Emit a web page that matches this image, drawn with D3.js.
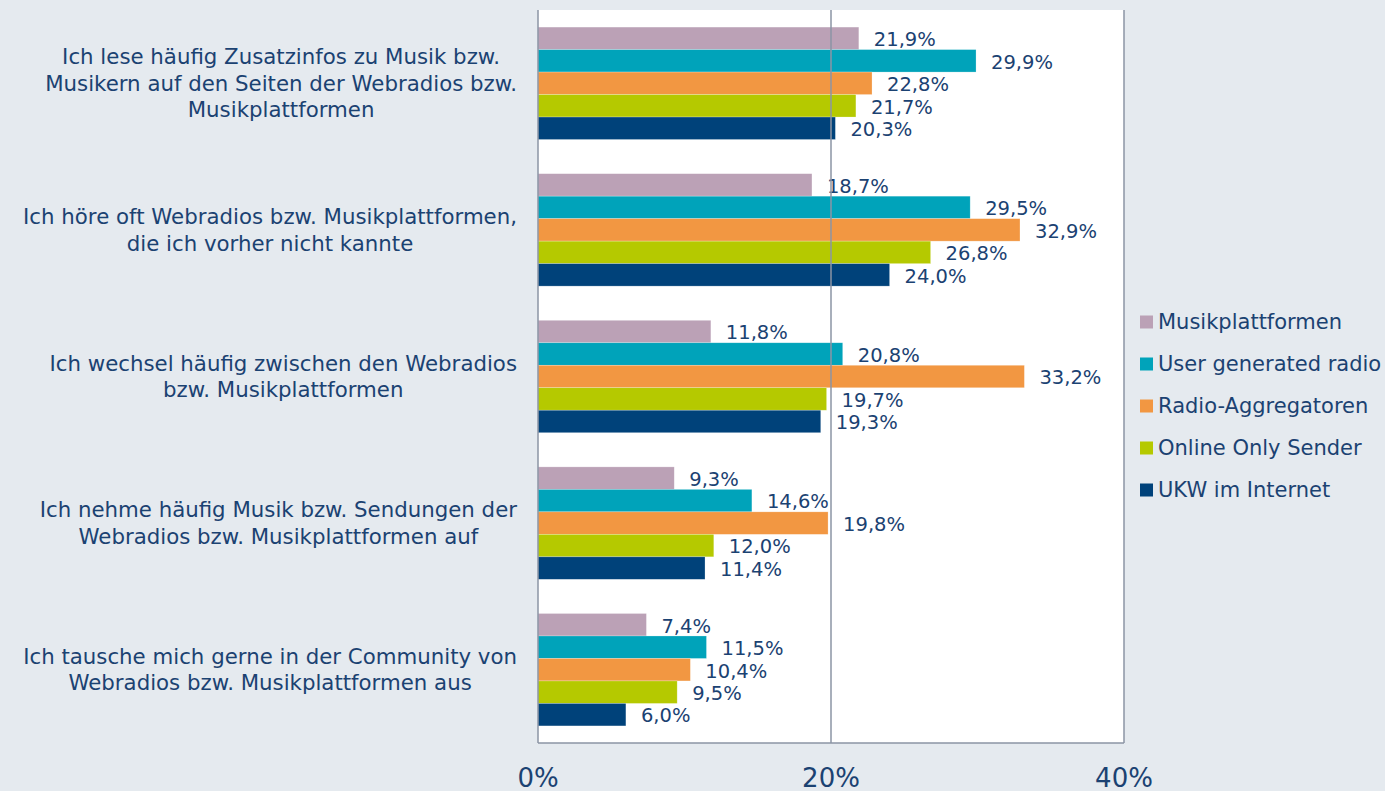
<!DOCTYPE html>
<html>

<head>
    <meta charset="utf-8">
    <style>
        body {
            margin: 0;
            background-color: #e5eaef;
        }

        svg {
            display: block;
            font-family: 'DejaVu Sans', Verdana, sans-serif;
        }
    </style>
</head>

<body>
    <svg width="1385" height="791"></svg>

    <script src="https://d3js.org/d3.v7.min.js"></script>

    <script>
        // categories (line breaks as in the original)
        let categories = [
            ["Ich lese häufig Zusatzinfos zu Musik bzw.", "Musikern auf den Seiten der Webradios bzw.", "Musikplattformen"],
            ["Ich höre oft Webradios bzw. Musikplattformen,", "die ich vorher nicht kannte"],
            ["Ich wechsel häufig zwischen den Webradios", "bzw. Musikplattformen"],
            ["Ich nehme häufig Musik bzw. Sendungen der", "Webradios bzw. Musikplattformen auf"],
            ["Ich tausche mich gerne in der Community von", "Webradios bzw. Musikplattformen aus"]
        ];

        let series = ["Musikplattformen", "User generated radio", "Radio-Aggregatoren", "Online Only Sender", "UKW im Internet"];

        // one array per series, in category order
        let musikplattformen = [21.9, 18.7, 11.8, 9.3, 7.4];
        let userGenerated = [29.9, 29.5, 20.8, 14.6, 11.5];
        let aggregatoren = [22.8, 32.9, 33.2, 19.8, 10.4];
        let onlineOnly = [21.7, 26.8, 19.7, 12.0, 9.5];
        let ukw = [20.3, 24.0, 19.3, 11.4, 6.0];

        let ticks = [0, 20, 40];

        let colors = ["#bba1b6", "#00a3ba", "#f29742", "#b5c900", "#00427a"];
        let textColor = "#1b4272";

        let values = [musikplattformen, userGenerated, aggregatoren, onlineOnly, ukw];

        let svg = d3.select("svg");

        let plotLeft = 538, plotRight = 1124, plotTop = 10, plotBottom = 743;

        let x = d3.scaleLinear()
            .domain([0, 40])
            .range([plotLeft, plotRight]);

        let y = d3.scaleBand()
            .domain(d3.range(categories.length))
            .range([plotTop, plotBottom]);

        let y1 = d3.scaleBand()
            .domain(series)
            .range([0, y.bandwidth()])
            .paddingOuter(0.76);

        let color = d3.scaleOrdinal()
            .domain(series)
            .range(colors);

        let fmt = v => d3.format(".1f")(v).replace(".", ",") + "%";

        // plot area
        svg.append("rect")
            .attr("x", plotLeft)
            .attr("y", plotTop)
            .attr("width", plotRight - plotLeft)
            .attr("height", plotBottom - plotTop)
            .style("fill", "white");

        // bars
        let rows = [];
        categories.forEach((c, i) => {
            series.forEach((s, j) => {
                rows.push({ cat: i, series: s, value: values[j][i] });
            });
        });

        svg.selectAll(".bar")
            .data(rows)
            .join("rect")
            .attr("class", "bar")
            .attr("x", x(0))
            .attr("y", d => y(d.cat) + y1(d.series))
            .attr("width", d => x(d.value) - x(0))
            .attr("height", y1.bandwidth())
            .style("fill", d => color(d.series))
            .style("stroke", "#ffffff")
            .style("stroke-opacity", 0.4)
            .style("stroke-width", 0.6);

        // value labels
        svg.selectAll(".val")
            .data(rows)
            .join("text")
            .attr("class", "val")
            .attr("x", d => x(d.value) + 15)
            .attr("y", d => y(d.cat) + y1(d.series) + y1.bandwidth() / 2 + 1)
            .attr("dy", "0.35em")
            .style("font-size", "19.5px")
            .style("fill", textColor)
            .text(d => fmt(d.value));

        // gridlines / frame
        svg.selectAll(".grid")
            .data(ticks)
            .join("line")
            .attr("class", "grid")
            .attr("x1", d => x(d))
            .attr("x2", d => x(d))
            .attr("y1", plotTop)
            .attr("y2", plotBottom)
            .style("stroke", "#8b94a4")
            .style("stroke-width", 1.5);

        svg.append("line")
            .attr("x1", plotLeft)
            .attr("x2", plotRight)
            .attr("y1", plotBottom)
            .attr("y2", plotBottom)
            .style("stroke", "#8b94a4")
            .style("stroke-width", 1.5);

        // tick labels (the original is cut by the bottom edge too)
        svg.selectAll(".tick-label")
            .data(ticks)
            .join("text")
            .attr("class", "tick-label")
            .attr("x", d => x(d))
            .attr("y", 787)
            .attr("text-anchor", "middle")
            .style("font-size", "26px")
            .style("fill", textColor)
            .text(d => d + "%");

        // category labels: lines centred on each other, block right edge next to the axis
        let lineH = 26.5;
        let labelRight = 517;
        let catLabels = svg.selectAll(".cat")
            .data(categories)
            .join("text")
            .attr("class", "cat")
            .attr("text-anchor", "middle")
            .style("font-size", "21.3px")
            .style("fill", textColor);

        catLabels.each(function (lines, i) {
            let cy = y(i) + y.bandwidth() / 2;
            let start = cy - (lines.length - 1) * lineH / 2;
            let tspans = d3.select(this).selectAll("tspan")
                .data(lines)
                .join("tspan")
                .attr("y", (d, k) => start + k * lineH)
                .attr("dy", "0.35em")
                .text(d => d);
            let widest = d3.max(tspans.nodes(), n => n.getComputedTextLength());
            tspans.attr("x", labelRight - widest / 2);
        });

        // legend
        let legend = svg.selectAll(".legend")
            .data(series)
            .join("g")
            .attr("class", "legend")
            .attr("transform", (d, i) => "translate(1140," + (322 + i * 42) + ")");

        legend.append("rect")
            .attr("x", 0)
            .attr("y", -6.5)
            .attr("width", 13)
            .attr("height", 13)
            .style("fill", d => color(d));

        legend.append("text")
            .attr("x", 18)
            .attr("y", 0)
            .attr("dy", "0.35em")
            .style("font-size", "21px")
            .style("fill", textColor)
            .text(d => d);
    </script>
</body>

</html>
